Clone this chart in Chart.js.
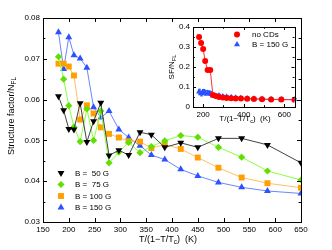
<!DOCTYPE html>
<html>
<head>
<meta charset="utf-8">
<script src="https://cdn.jsdelivr.net/npm/chart.js@4/dist/chart.umd.min.js"></script>
<style>
html, body { margin: 0; padding: 0; background: #fff; }
#wrap { position: relative; width: 332px; height: 250px; }
#main { position: absolute; left: 0; top: 0; }
#inset { position: absolute; left: 160px; top: 10px; }
</style>
</head>
<body>
<div id="wrap">
  <canvas id="main" width="332" height="250"></canvas>
  <canvas id="inset" width="172" height="120"></canvas>
</div>
<script>
// data
const temps = [180, 190, 200, 210, 222, 235, 248, 262, 278, 297, 316, 338, 360, 386, 417, 450, 490, 535, 585, 650];
const b50  = [0.0608, 0.0574, 0.0528, 0.0527, 0.0591, 0.0496, 0.0547, 0.0592, 0.0463, 0.0476, 0.0464, 0.0520, 0.0514, 0.0483, 0.0494, 0.0483, 0.0505, 0.0505, 0.0489, 0.0445];
const b75  = [0.0705, 0.0650, 0.0585, 0.0533, 0.0497, 0.0577, 0.0500, 0.0572, 0.0445, 0.0471, 0.0495, 0.0470, 0.0485, 0.0499, 0.0512, 0.0508, 0.0483, 0.0459, 0.0425, 0.0403];
const b100 = [0.0688, 0.0688, 0.0681, 0.0659, 0.0551, 0.0586, 0.0566, 0.0532, 0.0516, 0.0507, 0.0498, 0.0497, 0.0481, 0.0490, 0.0479, 0.0458, 0.0433, 0.0409, 0.0395, 0.0384];
const b150 = [0.0765, 0.0675, 0.0753, 0.0709, 0.0701, 0.0678, 0.0581, 0.0556, 0.0572, 0.0527, 0.0507, 0.0487, 0.0464, 0.0453, 0.0429, 0.0413, 0.0397, 0.0385, 0.0376, 0.0370];
const noCDs = [0.35, 0.32, 0.29, 0.23, 0.185, 0.185, 0.060, 0.055, 0.050, 0.047, 0.045, 0.044, 0.043, 0.042, 0.041, 0.040, 0.039, 0.038, 0.037, 0.036];
const errB150 = [0.012, 0.012, 0.012, 0.012, 0.011, 0.010, 0.008, 0.006, 0.006, 0.005, 0.005, 0.004, 0.004, 0.004, 0.004, 0.004, 0.004, 0.004, 0.004, 0.004];

// tick labels
const mainXTicks = [150, 200, 250, 300, 350, 400, 450, 500, 550, 600, 650];
const mainYTicks = [0.03, 0.04, 0.05, 0.06, 0.07, 0.08];
const mainYMinor = [0.035, 0.045, 0.055, 0.065, 0.075];
const insetXTicks = [200, 400, 600];
const insetXMinor = [300, 500];
const insetYTicks = [0, 0.1, 0.2, 0.3, 0.4];
const insetYMinor = [0.05, 0.15, 0.25, 0.35];

const FONT = '"Liberation Sans", Arial, sans-serif';

function pts(ys) {
    return temps.map((t, i) => ({ x: t, y: ys[i] }));
}

function series(label, ys, pointColor, lineColor, style, rot, r) {
    return {
        label: label,
        data: pts(ys),
        showLine: true,
        borderColor: lineColor,
        borderWidth: 1,
        backgroundColor: pointColor,
        pointBackgroundColor: pointColor,
        pointBorderColor: pointColor,
        pointBorderWidth: 0,
        pointStyle: style,
        pointRotation: rot,
        pointRadius: r
    };
}

function richText(ctx, parts, x, y, size, angle) {
    ctx.save();
    ctx.translate(x, y);
    ctx.rotate(angle || 0);
    ctx.fillStyle = '#000';
    ctx.textBaseline = 'middle';
    ctx.textAlign = 'left';
    let w = 0;
    parts.forEach(p => {
        ctx.font = (p.sub ? size * 0.7 : size) + 'px ' + FONT;
        w += ctx.measureText(p.t).width;
    });
    let cx = -w / 2;
    parts.forEach(p => {
        ctx.font = (p.sub ? size * 0.7 : size) + 'px ' + FONT;
        ctx.fillText(p.t, cx, p.sub ? size * 0.3 : 0);
        cx += ctx.measureText(p.t).width;
    });
    ctx.restore();
}

// box around the plot plus inward ticks on all four sides
function framePlugin(xMajor, xMinor, yMajor, yMinor, len) {
    return {
        id: 'frame',
        beforeDraw(chart) {
            const a = chart.chartArea, ctx = chart.ctx;
            ctx.save();
            ctx.fillStyle = '#fff';
            ctx.fillRect(a.left, a.top, a.right - a.left, a.bottom - a.top);
            ctx.restore();
        },
        afterDraw(chart) {
            const a = chart.chartArea, ctx = chart.ctx;
            const xs = chart.scales.x, ys = chart.scales.y;
            ctx.save();
            ctx.strokeStyle = '#000';
            ctx.lineWidth = 1;
            ctx.beginPath();
            const tick = (v, l, vertical) => {
                if (vertical) {
                    const px = Math.round(xs.getPixelForValue(v)) + 0.5;
                    ctx.moveTo(px, a.bottom); ctx.lineTo(px, a.bottom - l);
                    ctx.moveTo(px, a.top); ctx.lineTo(px, a.top + l);
                } else {
                    const py = Math.round(ys.getPixelForValue(v)) + 0.5;
                    ctx.moveTo(a.left, py); ctx.lineTo(a.left + l, py);
                    ctx.moveTo(a.right, py); ctx.lineTo(a.right - l, py);
                }
            };
            xMajor.forEach(v => tick(v, len, true));
            xMinor.forEach(v => tick(v, len * 0.6, true));
            yMajor.forEach(v => tick(v, len, false));
            yMinor.forEach(v => tick(v, len * 0.6, false));
            ctx.stroke();
            ctx.strokeRect(Math.round(a.left) + 0.5, Math.round(a.top) + 0.5,
                Math.round(a.right - a.left), Math.round(a.bottom - a.top));
            ctx.restore();
        }
    };
}

function legendPlugin(x0, tx, rows, size) {
    return {
        id: 'miniLegend',
        afterDraw(chart) {
            const ctx = chart.ctx;
            chart.data.datasets.forEach((ds, i) => {
                const y = rows[i];
                ctx.save();
                ctx.fillStyle = ds.pointBackgroundColor;
                ctx.strokeStyle = ds.pointBackgroundColor;
                Chart.helpers.drawPoint(ctx, {
                    pointStyle: ds.pointStyle, rotation: ds.pointRotation,
                    radius: ds.pointRadius, borderWidth: 0
                }, x0, y);
                ctx.fillStyle = '#000';
                ctx.font = size + 'px ' + FONT;
                ctx.textBaseline = 'middle';
                ctx.textAlign = 'left';
                ctx.fillText(ds.label, tx, y + 0.5);
                ctx.restore();
            });
        }
    };
}

function tickOpts() {
    return { color: '#000', font: { family: FONT, size: 8 }, padding: 3, maxRotation: 0, autoSkip: false };
}

const noGrid = { display: false, drawTicks: false, tickLength: 0 };

// main chart
new Chart(document.getElementById('main'), {
    type: 'scatter',
    data: {
        datasets: [
            series('B =  50 G', b50, '#000000', '#444444', 'triangle', 180, 4),
            series('B =  75 G', b75, '#5fe000', '#8cff3c', 'rectRot', 0, 3.6),
            series('B = 100 G', b100, '#ffa000', '#ffc060', 'rect', 0, 4.2),
            series('B = 150 G', b150, '#2a52ff', '#6a86ff', 'triangle', 0, 4)
        ]
    },
    options: {
        responsive: false,
        animation: false,
        layout: { padding: { left: 0, top: 18, right: 31, bottom: 0 } },
        plugins: { legend: { display: false }, tooltip: { enabled: false } },
        scales: {
            x: {
                type: 'linear', min: 150, max: 650,
                afterBuildTicks: s => { s.ticks = mainXTicks.map(v => ({ value: v })); },
                afterFit: s => { s.height = 28; },
                grid: noGrid, border: { display: false },
                ticks: tickOpts()
            },
            y: {
                type: 'linear', min: 0.03, max: 0.08,
                afterBuildTicks: s => { s.ticks = mainYTicks.map(v => ({ value: v })); },
                afterFit: s => { s.width = 43; },
                grid: noGrid, border: { display: false },
                ticks: Object.assign(tickOpts(), { callback: v => v.toFixed(2) })
            }
        }
    },
    plugins: [
        framePlugin(mainXTicks, [], mainYTicks, mainYMinor, 4),
        legendPlugin(61, 75, [173, 184.5, 196, 207.5], 8),
        {
            id: 'titles',
            afterDraw(chart) {
                const ctx = chart.ctx;
                richText(ctx, [{ t: 'Structure factor/N' }, { t: 'FL', sub: true }], 12, 116, 9, -Math.PI / 2);
                richText(ctx, [{ t: 'T/(1\u2212T/T' }, { t: 'c', sub: true }, { t: ')  (K)' }], 168, 240, 9, 0);
            }
        }
    ]
});

// inset chart
new Chart(document.getElementById('inset'), {
    type: 'scatter',
    data: {
        datasets: [
            series('no CDs', noCDs, '#ff0000', '#ff3030', 'circle', 0, 3),
            series('B = 150 G', b150, '#2a52ff', '#6a86ff', 'triangle', 0, 3.5)
        ]
    },
    options: {
        responsive: false,
        animation: false,
        layout: { padding: { left: 0, top: 17, right: 37.5, bottom: 0 } },
        plugins: { legend: { display: false }, tooltip: { enabled: false } },
        scales: {
            x: {
                type: 'linear', min: 150, max: 650,
                afterBuildTicks: s => { s.ticks = insetXTicks.map(v => ({ value: v })); },
                afterFit: s => { s.height = 23; },
                grid: noGrid, border: { display: false },
                ticks: tickOpts()
            },
            y: {
                type: 'linear', min: 0, max: 0.4,
                afterBuildTicks: s => { s.ticks = insetYTicks.map(v => ({ value: v })); },
                afterFit: s => { s.width = 33; },
                grid: noGrid, border: { display: false },
                ticks: Object.assign(tickOpts(), { callback: v => (v === 0 ? '0' : v.toFixed(1)) })
            }
        }
    },
    plugins: [
        framePlugin(insetXTicks, insetXMinor, insetYTicks, insetYMinor, 3),
        legendPlugin(77, 92, [24.5, 34.5], 8),
        {
            id: 'errorBars',
            beforeDatasetsDraw(chart) {
                const ctx = chart.ctx, xs = chart.scales.x, ys = chart.scales.y;
                ctx.save();
                ctx.strokeStyle = '#2a52ff';
                ctx.lineWidth = 1;
                ctx.beginPath();
                temps.forEach((t, i) => {
                    const px = Math.round(xs.getPixelForValue(t)) + 0.5;
                    const lo = ys.getPixelForValue(b150[i] - errB150[i]);
                    const hi = ys.getPixelForValue(b150[i] + errB150[i]);
                    ctx.moveTo(px, lo); ctx.lineTo(px, hi);
                    ctx.moveTo(px - 1.5, hi); ctx.lineTo(px + 1.5, hi);
                    ctx.moveTo(px - 1.5, lo); ctx.lineTo(px + 1.5, lo);
                });
                ctx.stroke();
                ctx.restore();
            }
        },
        {
            id: 'titles',
            afterDraw(chart) {
                const ctx = chart.ctx;
                richText(ctx, [{ t: 'SF/N' }, { t: 'FL', sub: true }], 12, 57, 8, -Math.PI / 2);
                richText(ctx, [{ t: 'T/(1\u2212T/T' }, { t: 'c', sub: true }, { t: ')  (K)' }], 85, 109, 8, 0);
            }
        }
    ]
});
</script>
</body>
</html>
